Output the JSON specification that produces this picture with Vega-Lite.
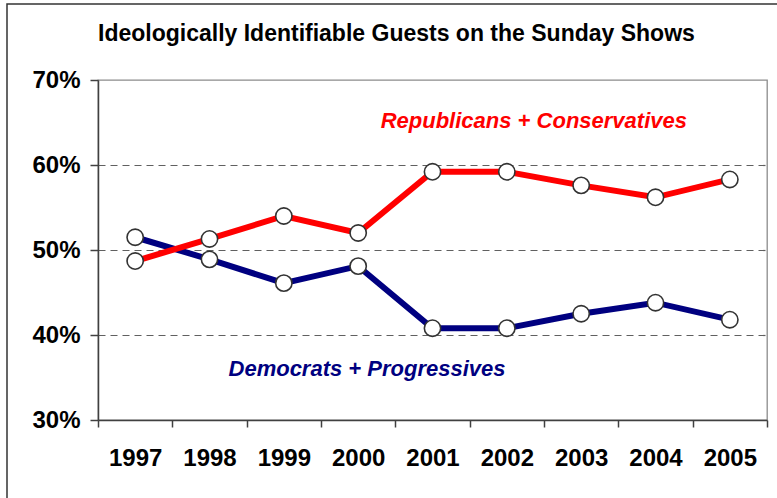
{
  "$schema": "https://vega.github.io/schema/vega-lite/v6.json",
  "width": 669,
  "height": 340,
  "autosize": {"type": "none"},
  "padding": {"left": 98, "top": 80, "right": 10, "bottom": 78},
  "background": "white",
  "config": {
    "font": "Liberation Sans",
    "view": {"stroke": "#8c8c8c", "strokeWidth": 1.3}
  },
  "title": {
    "text": "Ideologically Identifiable Guests on the Sunday Shows",
    "anchor": "start",
    "frame": "group",
    "fontSize": 23,
    "fontWeight": "bold",
    "color": "black",
    "offset": -43
  },
  "datasets": {
    "guests": [
      {"year": "1997", "group": "Republicans + Conservatives", "share": 48.7},
      {"year": "1998", "group": "Republicans + Conservatives", "share": 51.3},
      {"year": "1999", "group": "Republicans + Conservatives", "share": 54.0},
      {"year": "2000", "group": "Republicans + Conservatives", "share": 52.0},
      {"year": "2001", "group": "Republicans + Conservatives", "share": 59.2},
      {"year": "2002", "group": "Republicans + Conservatives", "share": 59.2},
      {"year": "2003", "group": "Republicans + Conservatives", "share": 57.6},
      {"year": "2004", "group": "Republicans + Conservatives", "share": 56.2},
      {"year": "2005", "group": "Republicans + Conservatives", "share": 58.3},
      {"year": "1997", "group": "Democrats + Progressives", "share": 51.5},
      {"year": "1998", "group": "Democrats + Progressives", "share": 48.9},
      {"year": "1999", "group": "Democrats + Progressives", "share": 46.1},
      {"year": "2000", "group": "Democrats + Progressives", "share": 48.1},
      {"year": "2001", "group": "Democrats + Progressives", "share": 40.8},
      {"year": "2002", "group": "Democrats + Progressives", "share": 40.8},
      {"year": "2003", "group": "Democrats + Progressives", "share": 42.5},
      {"year": "2004", "group": "Democrats + Progressives", "share": 43.8},
      {"year": "2005", "group": "Democrats + Progressives", "share": 41.8}
    ],
    "labels": [
      {"year": "2002", "pos": 0.863, "share": 64.3, "group": "Republicans + Conservatives"},
      {"year": "2000", "pos": 0.619, "share": 35.2, "group": "Democrats + Progressives"}
    ]
  },
  "encoding": {
    "x": {
      "field": "year",
      "type": "ordinal",
      "scale": {"type": "band", "paddingInner": 0, "paddingOuter": 0},
      "axis": {
        "title": null,
        "labelAngle": 0,
        "labelFontSize": 24,
        "labelFontWeight": "bold",
        "labelColor": "black",
        "tickBand": "extent",
        "tickSize": 7,
        "labelPadding": 19,
        "domainColor": "#404040",
        "domainWidth": 1.5,
        "tickColor": "#404040",
        "tickWidth": 1.5
      }
    },
    "y": {
      "field": "share",
      "type": "quantitative",
      "scale": {"domain": [30, 70], "nice": false, "zero": false},
      "axis": {
        "title": null,
        "values": [30, 40, 50, 60, 70],
        "labelExpr": "datum.value + '%'",
        "labelFontSize": 24,
        "labelFontWeight": "bold",
        "labelColor": "black",
        "tickSize": 8,
        "labelPadding": 10,
        "domainColor": "#404040",
        "domainWidth": 1.5,
        "tickColor": "#404040",
        "tickWidth": 1.5,
        "grid": true,
        "gridDash": [7, 5],
        "gridColor": "#606060",
        "gridWidth": 1.2,
        "gridOpacity": {
          "condition": {"test": "datum.value == 30 || datum.value == 70", "value": 0},
          "value": 1
        }
      }
    }
  },
  "layer": [
    {
      "data": {"values": [{}]},
      "mark": {"type": "rect", "fill": null, "stroke": "#333333", "strokeWidth": 1.5},
      "encoding": {
        "x": {"value": -91},
        "x2": {"value": 720},
        "y": {"value": -76},
        "y2": {"value": 440}
      }
    },
    {
      "data": {"name": "guests"},
      "transform": [{"filter": "datum.group == 'Democrats + Progressives'"}],
      "mark": {"type": "line", "color": "#000080", "strokeWidth": 6}
    },
    {
      "data": {"name": "guests"},
      "transform": [{"filter": "datum.group == 'Republicans + Conservatives'"}],
      "mark": {"type": "line", "color": "#ff0000", "strokeWidth": 6}
    },
    {
      "data": {"name": "guests"},
      "mark": {"type": "point", "shape": "circle", "filled": true, "fill": "white", "stroke": "#333333", "strokeWidth": 1.6, "size": 265, "opacity": 1}
    },
    {
      "data": {"name": "labels"},
      "mark": {"type": "text", "fontSize": 22, "fontWeight": "bold", "fontStyle": "italic", "align": "center", "baseline": "alphabetic"},
      "encoding": {
        "xOffset": {"field": "pos", "type": "quantitative", "scale": {"domain": [0, 1]}},
        "text": {"field": "group"},
        "color": {
          "field": "group",
          "type": "nominal",
          "scale": {"domain": ["Republicans + Conservatives", "Democrats + Progressives"], "range": ["#ff0000", "#000080"]},
          "legend": null
        }
      }
    }
  ]
}
